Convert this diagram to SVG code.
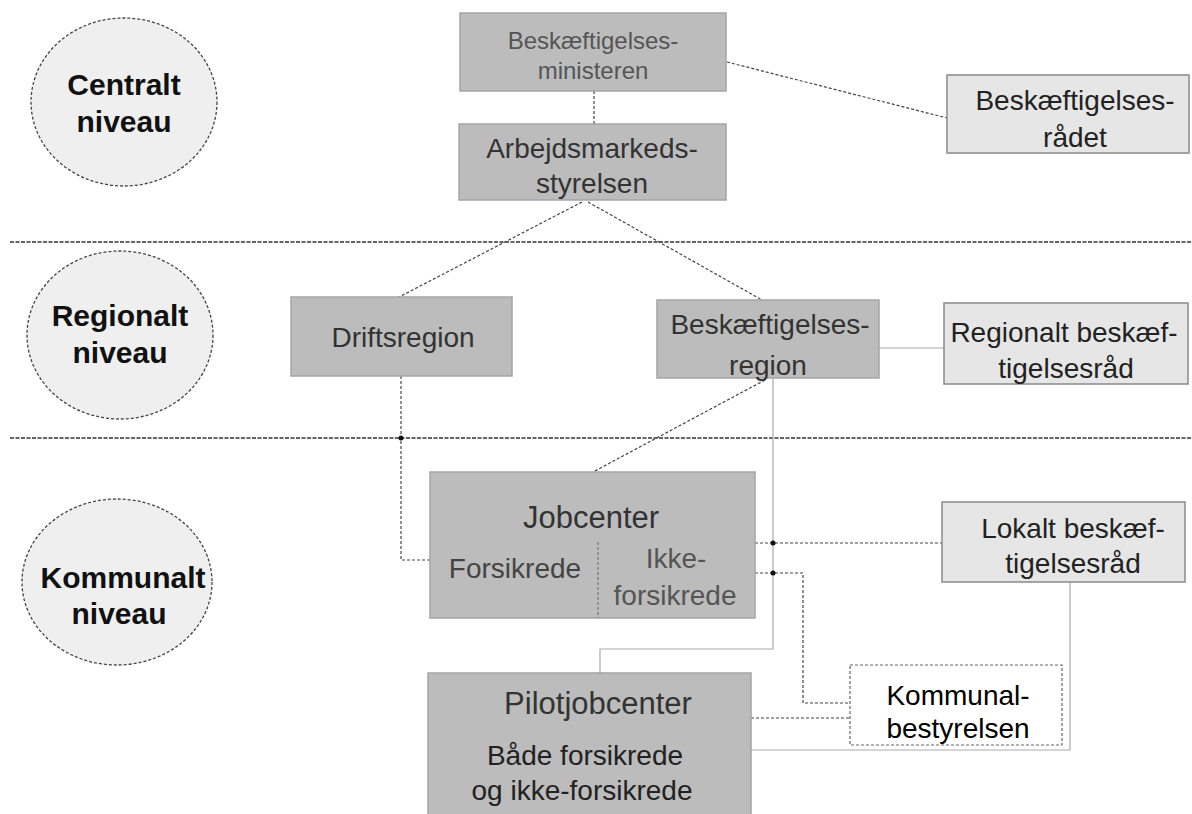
<svg xmlns="http://www.w3.org/2000/svg" width="1192" height="814" viewBox="0 0 1192 814">
<style>
text{font-family:"Liberation Sans",Arial,sans-serif;text-anchor:middle;dominant-baseline:central;fill:#333}
.lvl{fill:#efefef;stroke:#444;stroke-width:1.3;stroke-dasharray:3 2}
.lvt{font-weight:bold;font-size:30px;fill:#111}
.dark{fill:#bcbcbc;stroke:#a5a5a5;stroke-width:1.5}
.light{fill:#e6e6e6;stroke:#8a8a8a;stroke-width:1.5}
.white{fill:#fff;stroke:#666;stroke-width:1.2;stroke-dasharray:3 2}
.t{font-size:28px}
.sep{stroke:#333;stroke-width:1.4;stroke-dasharray:4 1.5;fill:none}
.c{stroke:#444;stroke-width:1.2;stroke-dasharray:3 2;fill:none}
.cl{stroke:#aaa;stroke-width:1.2;fill:none}
</style>
<rect width="1192" height="814" fill="#fff"/>

<g id="levels">
<line class="sep" x1="10" y1="242" x2="1192" y2="242"/>
<line class="sep" x1="10" y1="438" x2="1192" y2="438"/>
</g>

<g id="centralt">
<ellipse class="lvl" cx="124" cy="102" rx="93" ry="84"/>
<text class="lvt" x="124" y="84">Centralt</text>
<text class="lvt" x="124" y="121">niveau</text>
</g>
<g id="regionalt">
<ellipse class="lvl" cx="120" cy="335" rx="93" ry="84"/>
<text class="lvt" x="120" y="315">Regionalt</text>
<text class="lvt" x="120" y="352">niveau</text>
</g>
<g id="kommunalt">
<ellipse class="lvl" cx="117" cy="582" rx="95" ry="83"/>
<text class="lvt" x="123" y="577">Kommunalt</text>
<text class="lvt" x="119" y="613">niveau</text>
</g>

<g id="connectors">
<line class="c" x1="594" y1="91" x2="594" y2="124"/>
<line class="c" x1="727" y1="62" x2="947" y2="118"/>
<line class="c" x1="582" y1="202" x2="399" y2="297"/>
<line class="c" x1="588" y1="202" x2="762" y2="300"/>
<line class="cl" x1="879" y1="348" x2="944" y2="348"/>
<polyline class="c" points="401,376 401,560 430,560"/>
<line class="c" x1="765" y1="380" x2="593" y2="472"/>
<polyline class="cl" points="773,378 773,649 600,649 600,673"/>
<line class="c" x1="755" y1="543" x2="942" y2="543"/>
<polyline class="c" points="755,573 803,573 803,703 850,703"/>
<line class="c" x1="751" y1="718" x2="850" y2="718"/>
<polyline class="cl" points="1070,582 1070,750 751,750"/>
<circle cx="401" cy="438" r="2.5" fill="#111"/>
<circle cx="773" cy="543" r="2.5" fill="#111"/>
<circle cx="773" cy="573" r="2.5" fill="#111"/>
</g>

<g id="ministeren">
<rect class="dark" x="460" y="13" width="266" height="78"/>
<text x="593" y="40" style="font-size:24px;fill:#555">Beskæftigelses-</text>
<text x="593" y="70" style="font-size:24px;fill:#555">ministeren</text>
</g>
<g id="styrelsen">
<rect class="dark" x="459" y="124" width="267" height="76"/>
<text class="t" x="592" y="148">Arbejdsmarkeds-</text>
<text class="t" x="592" y="183">styrelsen</text>
</g>
<g id="raadet">
<rect class="light" x="947" y="75" width="242" height="78"/>
<text class="t" x="1075" y="100" style="fill:#222">Beskæftigelses-</text>
<text class="t" x="1075" y="137" style="fill:#222">rådet</text>
</g>
<g id="driftsregion">
<rect class="dark" x="291" y="297" width="221" height="79"/>
<text class="t" x="403" y="337">Driftsregion</text>
</g>
<g id="beskregion">
<rect class="dark" x="657" y="300" width="222" height="78"/>
<text class="t" x="770" y="324">Beskæftigelses-</text>
<text class="t" x="768" y="365">region</text>
</g>
<g id="regionaltraad">
<rect class="light" x="944" y="303" width="244" height="81"/>
<text class="t" x="1064" y="332" style="fill:#222">Regionalt beskæf-</text>
<text class="t" x="1066" y="368" style="fill:#222">tigelsesråd</text>
</g>
<g id="jobcenter">
<rect class="dark" x="430" y="472" width="325" height="146"/>
<line x1="598" y1="542" x2="598" y2="618" stroke="#777" stroke-width="1.2" stroke-dasharray="3 2"/>
<text x="591" y="517" style="font-size:31px">Jobcenter</text>
<text class="t" x="515" y="568" style="fill:#444">Forsikrede</text>
<text class="t" x="676" y="558" style="fill:#555">Ikke-</text>
<text class="t" x="675" y="595" style="fill:#555">forsikrede</text>
</g>
<g id="lokaltraad">
<rect class="light" x="942" y="502" width="243" height="80"/>
<text class="t" x="1073" y="528" style="fill:#222">Lokalt beskæf-</text>
<text class="t" x="1073" y="563" style="fill:#222">tigelsesråd</text>
</g>
<g id="pilotjobcenter">
<rect class="dark" x="428" y="673" width="323" height="150"/>
<text x="598" y="703" style="font-size:31px">Pilotjobcenter</text>
<text class="t" x="585" y="755" style="fill:#222">Både forsikrede</text>
<text class="t" x="582" y="790" style="fill:#222">og ikke-forsikrede</text>
</g>
<g id="kommunalbestyrelsen">
<rect class="white" x="850" y="665" width="212" height="80"/>
<text class="t" x="958" y="695" style="fill:#000">Kommunal-</text>
<text class="t" x="958" y="728" style="fill:#000">bestyrelsen</text>
</g>
</svg>
